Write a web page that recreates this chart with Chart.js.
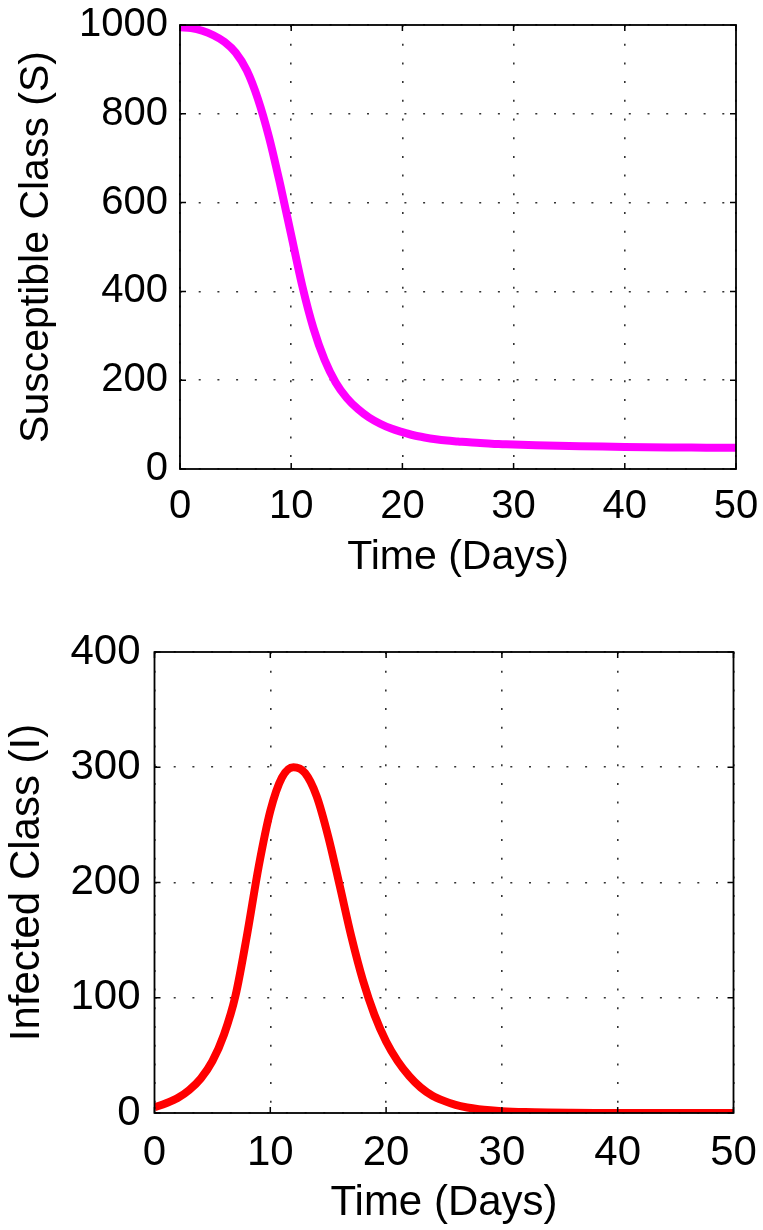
<!DOCTYPE html>
<html><head><meta charset="utf-8">
<script src="https://cdn.jsdelivr.net/npm/chart.js@4.4.0/dist/chart.umd.min.js"></script>
<style>
html,body{margin:0;padding:0;background:#fff;width:763px;height:1230px;overflow:hidden}
canvas{position:absolute;left:0}
#c1{top:0;width:763px;height:600px}
#c2{top:600px;width:763px;height:630px}
</style></head><body>
<canvas id="c1" width="763" height="600"></canvas>
<canvas id="c2" width="763" height="630"></canvas>
<script>
// ---- data ----
const timeS = [0,1,2,3,4,5,6,7,8,9,10,11,12,13,14,15,16,17,18,19,20,21,22,23,24,25,26,27,28,29,30,32,34,36,38,40,42,44,46,48,50];
const susceptible = [995,993,987,977,962,938,898,834,748,642,527,412,317,246,195,160,135,116,102,91,83,76,71,67,64,62,60,58.5,57,56,55,53.5,52.3,51.3,50.5,49.8,49.2,48.7,48.3,48,47.7];
const timeI = [0,1,2,3,4,5,6,7,8,9,10,11,12,13,14,15,16,17,18,19,20,21,22,23,24,25,26,27,28,29,30,32,34,36,38,40,45,50];
const infected = [5,8.5,13,20,30,45,68,102,155,214,262,291,300,295,275,240,197,153,115,85,62,45,32,22,15,10.5,7,4.8,3.3,2.3,1.6,0.8,0.4,0.2,0.1,0.05,0,0];
const xTicks = [0,10,20,30,40,50];
const sTicks = [0,200,400,600,800,1000];
const iTicks = [0,100,200,300,400];
const xTitle = 'Time (Days)';
const sTitle = 'Susceptible Class (S)';
const iTitle = 'Infected Class (I)';

const FAM = '"Liberation Sans", Arial, Helvetica, sans-serif';

const frame = {
  id: 'frame',
  afterDraw(chart) {
    const {ctx, chartArea: a, scales} = chart;
    ctx.save();
    ctx.strokeStyle = '#000';
    ctx.lineWidth = 1.5;
    ctx.beginPath();
    scales.x.ticks.forEach(t => {
      const px = scales.x.getPixelForValue(t.value);
      ctx.moveTo(px, a.bottom); ctx.lineTo(px, a.bottom - 6);
      ctx.moveTo(px, a.top); ctx.lineTo(px, a.top + 6);
    });
    scales.y.ticks.forEach(t => {
      const py = scales.y.getPixelForValue(t.value);
      ctx.moveTo(a.left, py); ctx.lineTo(a.left + 6, py);
      ctx.moveTo(a.right, py); ctx.lineTo(a.right - 6, py);
    });
    ctx.stroke();
    ctx.lineWidth = 1.8;
    ctx.strokeRect(a.left, a.top, a.right - a.left, a.bottom - a.top);
    ctx.restore();
  }
};

function noPad(s) { s.paddingLeft = 0; s.paddingRight = 0; s.paddingTop = 0; s.paddingBottom = 0; }

function makeChart(id, xs, ys, color, yTicks, yMax, yTitle, g) {
  const fs = g.fs;
  return new Chart(document.getElementById(id), {
    type: 'line',
    data: {
      datasets: [{
        data: xs.map((x, i) => ({x: x, y: ys[i]})),
        borderColor: color,
        borderWidth: 8,
        pointRadius: 0,
        fill: false,
        cubicInterpolationMode: 'monotone'
      }]
    },
    options: {
      responsive: false,
      animation: false,
      devicePixelRatio: 1,
      layout: {padding: {top: g.top, right: g.right, left: 0, bottom: 0}},
      plugins: {legend: {display: false}, tooltip: {enabled: false}},
      scales: {
        x: {
          type: 'linear', min: 0, max: 50,
          afterBuildTicks: s => { s.ticks = xTicks.map(v => ({value: v})); },
          afterFit: s => { s.height = g.xh; noPad(s); },
          ticks: {color: '#000', font: {family: FAM, size: fs}, padding: g.xtp, maxRotation: 0, autoSkip: false,
                  callback: v => String(v)},
          grid: {color: '#333', lineWidth: 1.6, drawTicks: false},
          border: {display: false, dash: [2, 16.7]},
          title: {display: true, text: xTitle, color: '#000', font: {family: FAM, size: g.tfs}, padding: {top: 0, bottom: g.xttp}}
        },
        y: {
          type: 'linear', min: 0, max: yMax,
          afterBuildTicks: s => { s.ticks = yTicks.map(v => ({value: v})); },
          afterFit: s => { s.width = g.yw; noPad(s); },
          ticks: {color: '#000', font: {family: FAM, size: fs}, padding: g.ytp, callback: v => String(v)},
          grid: {color: '#333', lineWidth: 1.6, drawTicks: false},
          border: {display: false, dash: [2, 16.7]},
          title: {display: true, text: yTitle, color: '#000', font: {family: FAM, size: g.tfs}, padding: {top: g.yttp, bottom: 0}}
        }
      }
    },
    plugins: [frame]
  });
}

makeChart('c1', timeS, susceptible, '#ff00ff', sTicks, 1000, sTitle,
  {fs: 40, tfs: 41, top: 25, right: 27, xh: 131, yw: 180, xtp: 14, ytp: 12, xttp: 18, yttp: 12});
makeChart('c2', timeI, infected, '#ff0000', iTicks, 400, iTitle,
  {fs: 42, tfs: 42, top: 52, right: 29.5, xh: 117, yw: 154.5, xtp: 15, ytp: 14, xttp: 1, yttp: 2});
</script>
</body></html>
